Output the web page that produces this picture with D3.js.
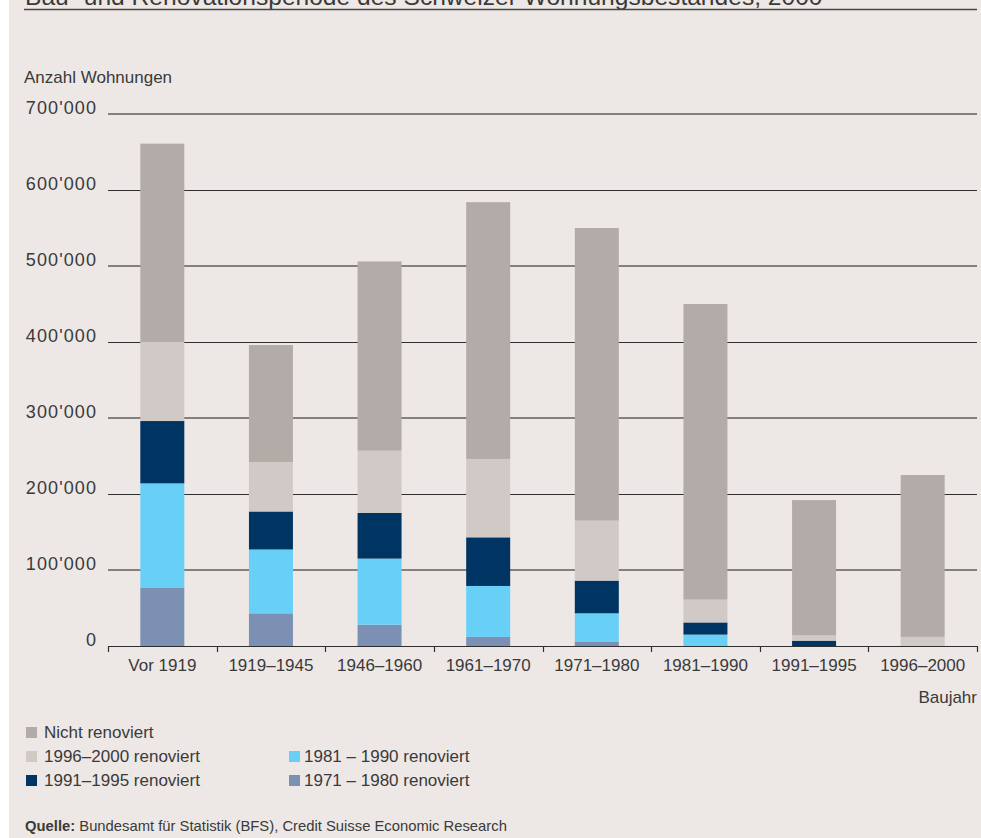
<!DOCTYPE html>
<html>
<head>
<meta charset="utf-8">
<script src="https://cdn.jsdelivr.net/npm/d3@7"></script>
<style>
  html, body { margin: 0; padding: 0; background: #ffffff; }
  svg { display: block; }
  text { font-family: "Liberation Sans", Arial, sans-serif; fill: #3a3a3a; }
</style>
</head>
<body>
<svg id="chart" width="981" height="838"></svg>
<script>
// Bauperioden (x axis)
const categories = ["Vor 1919", "1919–1945", "1946–1960", "1961–1970", "1971–1980", "1981–1990", "1991–1995", "1996–2000"];

// Wohnungen je Renovationsperiode, stacked bottom to top
const renov7180 = [77000, 43000, 28000, 12000, 6000, 0, 0, 0];
const renov8190 = [137000, 84000, 87000, 67000, 37000, 15000, 0, 0];
const renov9195 = [82000, 50000, 60000, 64000, 43000, 16000, 7000, 0];
const renov9600 = [104000, 65000, 82000, 103000, 79000, 30000, 7000, 12000];
const nichtRenoviert = [261000, 154000, 249000, 338000, 385000, 389000, 178000, 213000];

const seriesKeys = ["r7180", "r8190", "r9195", "r9600", "nicht"];
const seriesLabels = ["1971 – 1980 renoviert", "1981 – 1990 renoviert", "1991–1995 renoviert", "1996–2000 renoviert", "Nicht renoviert"];
const seriesColors = ["#7b90b2", "#68cff7", "#003463", "#d1c9c6", "#b3aba8"];

const yTicks = [0, 100000, 200000, 300000, 400000, 500000, 600000, 700000];
const yTickLabels = ["0", "100'000", "200'000", "300'000", "400'000", "500'000", "600'000", "700'000"];

const titleText = "Bau- und Renovationsperiode des Schweizer Wohnungsbestandes, 2000";
const yAxisTitle = "Anzahl Wohnungen";
const xAxisTitle = "Baujahr";

const rows = categories.map((c, i) => ({
  cat: c,
  r7180: renov7180[i], r8190: renov8190[i], r9195: renov9195[i],
  r9600: renov9600[i], nicht: nichtRenoviert[i]
}));

const svg = d3.select("#chart");

// panel background
svg.append("rect").attr("x", 9).attr("y", 0).attr("width", 972).attr("height", 838).attr("fill", "#ede8e5");

// title (runs above the top edge) and its rule
const title = svg.append("text").attr("x", 25).attr("y", 5).attr("font-size", 24).attr("fill", "#444").text(titleText);
const tw = title.node().getComputedTextLength();
title.attr("font-size", 24 * 798 / tw);
svg.append("line").attr("x1", 24).attr("x2", 977).attr("y1", 9.5).attr("y2", 9.5)
  .attr("stroke", "#4a4644").attr("stroke-width", 1.6);

const left = 108, right = 977, baseY = 646, topY = 114;

const x = d3.scaleBand().domain(categories).range([left, right]).paddingInner(0.595).paddingOuter(0.2975);
const y = d3.scaleLinear().domain([0, 700000]).range([baseY, topY]);

// gridlines
const grid = svg.append("g");
yTicks.slice(1).forEach((t, i) => {
  const odd = (i % 2 === 0);
  const yy = Math.round(y(t)) + (odd ? 0 : 0.5);
  grid.append("line").attr("x1", left).attr("x2", right).attr("y1", yy).attr("y2", yy)
    .attr("stroke", odd ? "#858080" : "#2f2f2f").attr("stroke-width", odd ? 2 : 1);
});

// y tick labels
svg.append("g").selectAll("text").data(yTicks).join("text")
  .attr("x", 97).attr("y", d => y(d)).attr("text-anchor", "end").attr("font-size", 18)
  .attr("letter-spacing", 1.1)
  .text((d, i) => yTickLabels[i]);

svg.append("text").attr("x", 24).attr("y", 83).attr("font-size", 17).text(yAxisTitle);

// stacked bars
const stack = d3.stack().keys(seriesKeys);
const layers = stack(rows);
svg.append("g").selectAll("g").data(layers).join("g")
  .attr("fill", (d, i) => seriesColors[i])
  .selectAll("rect").data(d => d).join("rect")
  .attr("x", d => x(d.data.cat))
  .attr("width", x.bandwidth())
  .attr("y", d => y(d[1]))
  .attr("height", d => y(d[0]) - y(d[1]));

// x axis with ticks at the category boundaries
const ax = svg.append("g");
ax.append("line").attr("x1", left).attr("x2", right).attr("y1", baseY + 0.5).attr("y2", baseY + 0.5)
  .attr("stroke", "#2f2f2f").attr("stroke-width", 1.2);
const half = x.step() * 0.2975;
const bounds = categories.map(c => x(c) - half).concat([right]);
ax.selectAll("line.tick").data(bounds).join("line").attr("class", "tick")
  .attr("x1", d => Math.round(d) + 0.5).attr("x2", d => Math.round(d) + 0.5)
  .attr("y1", baseY).attr("y2", baseY + 6).attr("stroke", "#2f2f2f").attr("stroke-width", 1.2);
ax.selectAll("text").data(categories).join("text")
  .attr("x", d => x(d) + x.bandwidth() / 2).attr("y", 671).attr("text-anchor", "middle")
  .attr("font-size", 17).text(d => d);

svg.append("text").attr("x", 977).attr("y", 703).attr("text-anchor", "end").attr("font-size", 17).text(xAxisTitle);

// legend
const legendItems = [
  { k: 4, x: 26, y: 738 },
  { k: 3, x: 26, y: 762 },
  { k: 2, x: 26, y: 786 },
  { k: 1, x: 289, y: 762 },
  { k: 0, x: 289, y: 786 }
];
const lg = svg.append("g").selectAll("g").data(legendItems).join("g");
lg.append("rect").attr("x", d => d.x).attr("y", d => d.y - 11).attr("width", 11).attr("height", 11)
  .attr("fill", d => seriesColors[d.k]);
lg.append("text").attr("x", d => d.x + (d.x < 100 ? 18 : 15)).attr("y", d => d.y).attr("font-size", 17)
  .text(d => seriesLabels[d.k]);

// source line
const src = svg.append("text").attr("x", 25).attr("y", 831).attr("font-size", 14.8).attr("fill", "#333");
src.append("tspan").attr("font-weight", "bold").text("Quelle:");
src.append("tspan").text(" Bundesamt für Statistik (BFS), Credit Suisse Economic Research");
</script>
</body>
</html>
